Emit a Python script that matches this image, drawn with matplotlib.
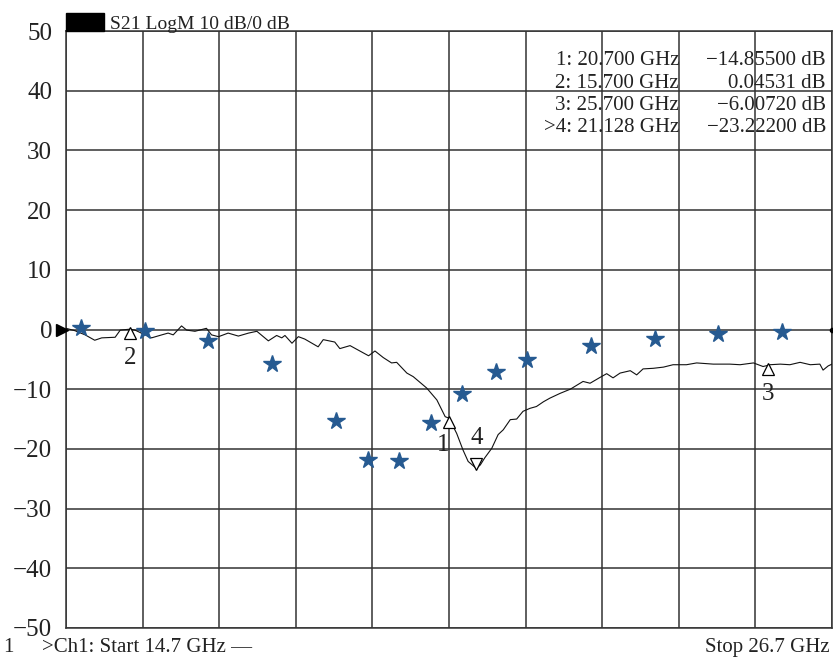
import matplotlib
matplotlib.use("Agg")
import matplotlib.pyplot as plt
import matplotlib.patches as patches
import matplotlib.transforms as mtransforms
import numpy as np

plt.rcParams['font.family'] = ['Liberation Serif', 'DejaVu Serif']

# measured S21 trace (GHz, dB)
trace_f = [14.70, 14.84, 15.00, 15.15, 15.26, 15.47, 15.55, 15.70, 15.78, 15.94,
           16.04, 16.20, 16.30, 16.38, 16.51, 16.59, 16.72, 16.90, 16.98, 17.09,
           17.24, 17.40, 17.56, 17.69, 17.87, 18.00, 18.08, 18.13, 18.24, 18.34,
           18.44, 18.65, 18.73, 18.91, 18.99, 19.15, 19.44, 19.54, 19.67, 19.80,
           19.88, 20.04, 20.14, 20.35, 20.51, 20.64, 20.70, 20.82, 20.92, 21.00,
           21.11, 21.128, 21.19, 21.26, 21.37, 21.47, 21.55, 21.66, 21.76, 21.86,
           21.97, 22.07, 22.18, 22.28, 22.44, 22.60, 22.80, 22.91, 23.07, 23.17,
           23.27, 23.38, 23.54, 23.64, 23.74, 23.90, 24.06, 24.21, 24.42, 24.58,
           24.84, 25.10, 25.26, 25.47, 25.62, 25.70, 25.73, 25.89, 26.04, 26.20,
           26.36, 26.51, 26.56, 26.64, 26.70]
trace_db = [0.2, -0.2, -0.9, -1.8, -1.4, -1.3, -0.1, 0.05, -0.1, -0.9,
            -1.4, -0.9, -0.6, -0.9, 0.6, -0.1, -0.3, 0.2, -0.9, -1.2,
            -0.6, -1.1, -0.6, -0.3, -1.9, -1.0, -1.4, -1.0, -2.3, -1.2,
            -1.6, -2.9, -1.7, -2.1, -3.2, -2.7, -4.4, -3.6, -4.7, -5.6,
            -5.5, -7.3, -7.9, -9.8, -11.8, -14.6, -14.86, -17.4, -20.2, -22.1,
            -23.1, -23.22, -22.7, -21.5, -19.9, -17.6, -16.8, -15.1, -15.0, -13.7,
            -13.2, -12.9, -12.1, -11.5, -10.7, -10.0, -8.7, -9.0, -8.0, -7.4,
            -8.1, -7.3, -6.9, -7.6, -6.6, -6.5, -6.3, -5.9, -5.9, -5.6,
            -5.8, -5.8, -5.9, -5.6, -6.2, -6.0, -5.9, -5.8, -5.9, -5.5,
            -5.9, -5.8, -6.8, -6.1, -5.8]

# simulated points (stars)
sim_f = [14.93, 15.93, 16.92, 17.93, 18.93, 19.43, 19.92, 20.42, 20.91, 21.43,
         21.92, 22.92, 23.92, 24.91, 25.91]
sim_db = [0.2, -0.2, -2.0, -5.75, -15.3, -21.9, -22.0, -15.7, -10.8, -7.2,
          -5.1, -2.7, -1.6, -0.7, -0.4]

# analyzer markers
marker_id = ['1', '2', '3', '4']
marker_f = [20.700, 15.700, 25.700, 21.128]
marker_db = [-14.855, 0.04531, -6.0072, -23.222]

f_start, f_stop = 14.7, 26.7
y_lo, y_hi = -50, 50

fig = plt.figure(figsize=(8.33, 6.59), dpi=100)
ax = fig.add_axes([66 / 833, 31 / 659, 766 / 833, 597 / 659])
ax.set_xlim(f_start, f_stop)
ax.set_ylim(y_lo, y_hi)
ax.set_xticks(np.linspace(f_start, f_stop, 11))
ax.set_yticks(np.arange(y_lo, y_hi + 1, 10))
ax.set_xticklabels([])
ax.tick_params(length=0, labelsize=18, pad=10, colors='#222222')
ax.grid(True, color='#333333', linewidth=1.1)
for s in ax.spines.values():
    s.set_color('#333333')
    s.set_linewidth(1.1)
ax.set_axisbelow(True)

ax.plot(trace_f, trace_db, color='#111111', linewidth=0.8, zorder=3)
ax.plot(sim_f, sim_db, linestyle='none', marker='*', markersize=13,
        color='#265a91', zorder=4)

# reference arrows at 0 dB
ax.plot([f_start], [0], marker='>', color='black', markersize=8, clip_on=False,
        transform=mtransforms.offset_copy(ax.transData, fig, x=-4, units='dots'), zorder=5)
ax.plot([f_stop], [0], marker='o', color='black', markersize=3, clip_on=False, zorder=5)

# marker triangles and numbers
down = mtransforms.offset_copy(ax.transData, fig, y=-4, units='dots')
up = mtransforms.offset_copy(ax.transData, fig, y=4, units='dots')
label_off = {'1': (-6, -27), '2': (0, -29), '3': (0, -29), '4': (0, 30)}
for mid, f, v in zip(marker_id, marker_f, marker_db):
    if mid == '4':
        ax.plot([f], [v], marker='v', markersize=8, markerfacecolor='white',
                markeredgecolor='black', markeredgewidth=0.9, transform=up, zorder=5)
    else:
        ax.plot([f], [v], marker='^', markersize=8, markerfacecolor='white',
                markeredgecolor='black', markeredgewidth=0.9, transform=down, zorder=5)
    dx, dy = label_off[mid]
    ax.annotate(mid, (f, v), xytext=(dx * 0.72, dy * 0.72), textcoords='offset points',
                ha='center', va='center', fontsize=18, color='#222222', zorder=6)

# marker readout table
def fmt_db(v):
    return f"{v:.5f}".replace('-', '\u2212') + " dB"

rows = sorted(zip(marker_id, marker_f, marker_db), key=lambda r: int(r[0]))
for i, (mid, f, v) in enumerate(rows):
    yb = 1 - (65 + 22.5 * i) / 659
    prefix = '>' if mid == '4' else ''
    fig.text(679 / 833, yb, f"{prefix}{mid}: {f:.3f} GHz", ha='right', va='baseline',
             fontsize=15, color='#222222')
    fig.text(826 / 833, yb, fmt_db(v), ha='right', va='baseline',
             fontsize=15, color='#222222')

# header
fig.patches.append(patches.Rectangle((66 / 833, 1 - 31 / 659), 38 / 833, 18 / 659,
                                     transform=fig.transFigure, color='black'))
fig.text(110 / 833, 1 - 29 / 659, "S21 LogM 10 dB/0 dB", ha='left', va='baseline',
         fontsize=14, color='#222222')

# footer
fig.text(3 / 833, 1 - 652 / 659, "1", ha='left', va='baseline', fontsize=15, color='#222222')
fig.text(42 / 833, 1 - 652 / 659, ">Ch1: Start 14.7 GHz \u2014", ha='left', va='baseline',
         fontsize=15, color='#222222')
fig.text(830 / 833, 1 - 652 / 659, "Stop 26.7 GHz", ha='right', va='baseline',
         fontsize=15, color='#222222')

fig.savefig("out.png", dpi=100)
